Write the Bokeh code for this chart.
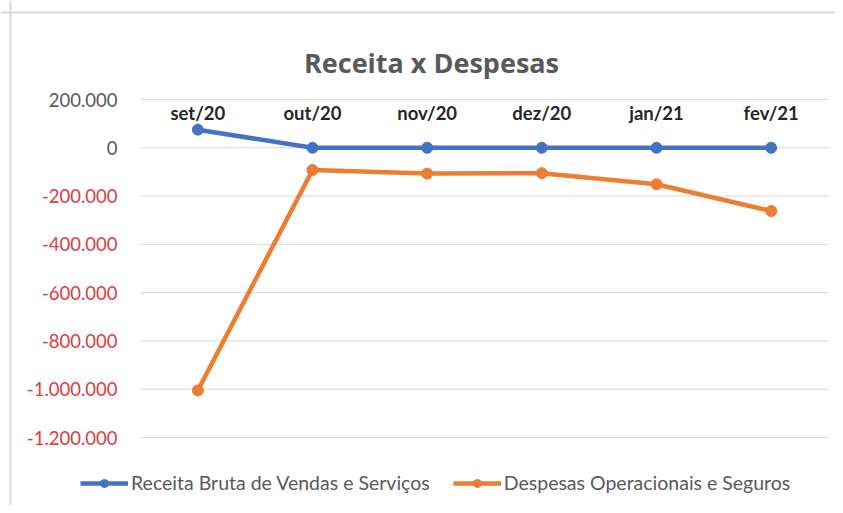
from bokeh.plotting import figure
from bokeh.models import Legend, LegendItem, Range1d, Span
from bokeh.core.properties import value
from bokeh.embed import file_html
from bokeh.resources import INLINE

months = ["set/20", "out/20", "nov/20", "dez/20", "jan/21", "fev/21"]
receita = [75000, 0, 0, 0, 0, 0]
despesas = [-1005000, -92000, -107000, -105000, -151000, -262000]
y_ticks = [200000, 0, -200000, -400000, -600000, -800000, -1000000, -1200000]
y_tick_labels = ["200.000", "0", "-200.000", "-400.000", "-600.000", "-800.000",
                 "-1.000.000", "-1.200.000"]
title_text = "Receita x Despesas"

BLUE = "#4472C4"
ORANGE = "#ED7D31"
GRAY = "#595959"
RED = "#E03A3E"
FONT = "Lato"

# ---- layout (pixels on the canvas) ----
W, H = 835, 505
PLOT_L, PLOT_R, PLOT_T, PLOT_B = 140, 828, 99, 437
Y_MAX, Y_MIN = max(y_ticks), min(y_ticks)
n = len(months)
xs = list(range(n))

px_per_x = (PLOT_R - PLOT_L) / n
x_lo = -0.5 - PLOT_L / px_per_x
x_hi = x_lo + W / px_per_x
per_px_y = (Y_MAX - Y_MIN) / (PLOT_B - PLOT_T)
y_hi = Y_MAX + PLOT_T * per_px_y
y_lo = y_hi - H * per_px_y


def px_x(px):
    return x_lo + px / px_per_x


def px_y(py):
    return y_hi - py * per_px_y


p = figure(width=W, height=H, x_range=Range1d(x_lo, x_hi), y_range=Range1d(y_lo, y_hi),
           x_axis_location=None, y_axis_location=None,
           output_backend="svg", toolbar_location=None,
           min_border=0)
p.outline_line_color = None
p.xgrid.visible = False
p.ygrid.visible = False

# chart border (top / left)
p.add_layout(Span(location=px_y(12), dimension="width", line_color="#D9D9D9", line_width=2))
p.add_layout(Span(location=px_x(10), dimension="height", line_color="#D9D9D9", line_width=2))

# horizontal gridlines
p.segment(x0=[-0.5] * len(y_ticks), x1=[n - 0.5] * len(y_ticks), y0=y_ticks, y1=y_ticks,
          line_color="#D9D9D9", line_width=1)

# y tick labels (coloured by sign)
p.text(x=[-0.5] * len(y_ticks), y=y_ticks, text=y_tick_labels, x_offset=-23,
       text_align="right", text_baseline="middle",
       text_color=[GRAY if v >= 0 else RED for v in y_ticks],
       text_font=value(FONT), text_font_size="18.5px")

# category labels below top gridline
p.text(x=xs, y=[Y_MAX] * n, text=months, y_offset=13,
       text_align="center", text_baseline="middle", text_font=value(FONT),
       text_font_style="bold", text_font_size="18.5px", text_color="#262626")

# title
p.text(x=[px_x(431)], y=[px_y(62)], text=[title_text], text_align="center",
       text_baseline="alphabetic", text_font=value("Open Sans"), text_font_style="bold",
       text_font_size="27px", text_color=GRAY)

l1 = p.line(xs, receita, line_color=BLUE, line_width=4.5)
s1 = p.scatter(xs, receita, size=11, fill_color=BLUE, line_color=BLUE)
l2 = p.line(xs, despesas, line_color=ORANGE, line_width=4.5)
s2 = p.scatter(xs, despesas, size=11, fill_color=ORANGE, line_color=ORANGE)

legend = Legend(items=[LegendItem(label="Receita Bruta de Vendas e Serviços", renderers=[l1, s1]),
                       LegendItem(label="Despesas Operacionais e Seguros", renderers=[l2, s2])],
                orientation="horizontal", location=(80, 11),
                border_line_color=None, background_fill_alpha=0,
                label_text_font=FONT, label_text_font_size="19.5px",
                label_text_color=GRAY, glyph_width=48, label_standoff=3, spacing=23,
                padding=0, margin=0)
p.add_layout(legend, "center")

open("out.html", "w").write(file_html(p, INLINE))
